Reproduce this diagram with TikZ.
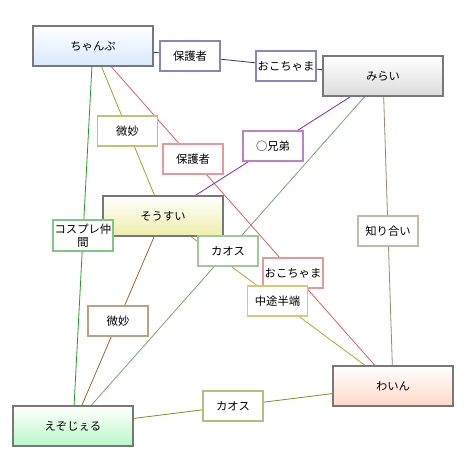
\documentclass[tikz,border=0pt]{standalone}
\usepackage{fontspec}
\setmainfont{Noto Sans CJK JP}
\usetikzlibrary{backgrounds}
\definecolor{mainborder}{HTML}{787878}
\definecolor{cblue}{HTML}{D8E8FC}
\definecolor{cgray}{HTML}{DCDCDC}
\definecolor{cyellow}{HTML}{EEEEAA}
\definecolor{cgreen}{HTML}{B8F8C8}
\definecolor{csalmon}{HTML}{FFD8C8}
\definecolor{bnavy}{HTML}{8888B8}
\definecolor{bolive}{HTML}{C8C070}
\definecolor{bpink}{HTML}{E89898}
\definecolor{bpurple}{HTML}{C080C8}
\definecolor{btan}{HTML}{C8B8A8}
\definecolor{bgreen}{HTML}{80C880}
\definecolor{bgreengray}{HTML}{A0C8A0}
\definecolor{bgold}{HTML}{D8C878}
\definecolor{bbrown}{HTML}{C0A080}
\definecolor{bolivegreen}{HTML}{B0C080}
\definecolor{lnavy}{HTML}{303080}
\definecolor{lolive}{HTML}{A0A030}
\definecolor{lpink}{HTML}{E06060}
\definecolor{lpurple}{HTML}{A020A0}
\definecolor{ltan}{HTML}{A08868}
\definecolor{lgreen}{HTML}{20A020}
\definecolor{lchaos}{HTML}{70A870}
\definecolor{lgold}{HTML}{C0A030}
\definecolor{lbrown}{HTML}{A06830}
\definecolor{lolivegreen}{HTML}{809010}
\tikzset{
  mainbox/.style={draw=mainborder, line width=1.1pt, minimum width=90pt, minimum height=30pt,
    inner sep=0pt, top color=white, font=\fontsize{8.5}{10}\selectfont},
  lab/.style={draw=#1, fill=white, line width=0.9pt, minimum width=45pt, minimum height=22.5pt,
    inner sep=0pt, align=center, font=\fontsize{8.5}{10}\selectfont},
  edge/.style={draw=#1, line width=0.6pt},
}
\begin{document}
\begin{tikzpicture}[x=0.75pt,y=-0.75pt]
\useasboundingbox (0,0) rectangle (470,475);
\node[mainbox, bottom color=cblue] (champu) at (93,46) {ちゃんぷ};
\node[mainbox, bottom color=cgray] (mirai) at (383,76) {みらい};
\node[mainbox, bottom color=cyellow] (sousui) at (163,216) {そうすい};
\node[mainbox, bottom color=cgreen] (ezo) at (73,426) {えぞじぇる};
\node[mainbox, bottom color=csalmon] (wain) at (393,386) {わいん};

\node[lab=bnavy] (l1) at (190,56) {保護者};
\node[lab=bnavy] (l2) at (286,66) {おこちゃま};
\node[lab=bolive] (l3) at (127.5,131) {微妙};
\node[lab=bpink] (l4) at (193,159) {保護者};
\node[lab=bpink] (l5) at (293,273) {おこちゃま};
\node[lab=bpurple] (l6) at (273,146) {○兄弟};
\node[lab=btan] (l7) at (388,231) {知り合い};
\node[lab=bgreen, minimum height=23.25pt, font=\fontsize{8.5}{9.5}\selectfont] (l8) at (83,235.5) {コスプレ仲\\間};
\node[lab=bgreengray] (l9) at (228,251) {カオス};
\node[lab=bgold] (l10) at (277.5,301) {中途半端};
\node[lab=bbrown] (l11) at (118,321) {微妙};
\node[lab=bolivegreen] (l12) at (233,406) {カオス};

\begin{scope}[on background layer]
\draw[edge=lnavy] (champu.center) -- (mirai.center);
\draw[edge=lolive] (champu.center) -- (sousui.center);
\draw[edge=lpink] (champu.center) -- (wain.center);
\draw[edge=lpurple] (mirai.center) -- (sousui.center);
\draw[edge=ltan] (mirai.center) -- (wain.center);
\draw[edge=lgreen] (champu.center) -- (ezo.center);
\draw[edge=lchaos] (mirai.center) -- (ezo.center);
\draw[edge=lgold] (sousui.center) -- (wain.center);
\draw[edge=lbrown] (sousui.center) -- (ezo.center);
\draw[edge=lolivegreen] (ezo.center) -- (wain.center);
\end{scope}
\end{tikzpicture}
\end{document}
